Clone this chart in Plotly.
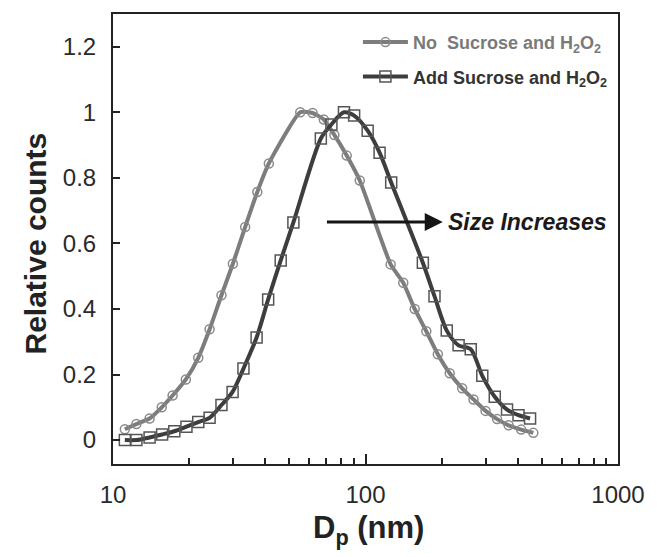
import numpy as np
import plotly.graph_objects as go

# Particle diameter (nm) and normalized counts, no sucrose / H2O2
dp_no = [11.14, 12.38, 13.96, 15.6, 17.22, 19.43, 21.76, 24.13, 26.89, 29.84,
         33.37, 37.28, 41.42, 55.16, 61.75, 68.36, 75.27, 84.25, 94.91, 125.8,
         141.1, 156.6, 174.1, 193.4, 215.5, 241.4, 267.8, 298.9, 332.1, 368.7,
         413.6, 462.0]
counts_no = [0.033, 0.049, 0.066, 0.10, 0.136, 0.185, 0.251, 0.338, 0.442, 0.538,
             0.65, 0.757, 0.844, 1.0, 0.998, 0.978, 0.931, 0.868, 0.792, 0.536,
             0.48, 0.40, 0.332, 0.262, 0.204, 0.158, 0.124, 0.089, 0.064, 0.045,
             0.032, 0.022]

# Particle diameter (nm) and normalized counts, with sucrose / H2O2
dp_add = [11.14, 12.38, 13.96, 15.65, 17.49, 19.54, 21.76, 24.13, 26.89, 29.76,
          32.86, 37.04, 41.16, 46.15, 51.81, 66.55, 73.28, 82.17, 90.16, 102.0,
          113.7, 126.4, 168.7, 187.6, 209.8, 233.7, 261.1, 290.1, 325.1, 363.5,
          403.6, 448.5]
counts_add = [0.0, 0.0, 0.008, 0.017, 0.027, 0.041, 0.055, 0.068, 0.107, 0.147,
              0.218, 0.313, 0.429, 0.548, 0.664, 0.92, 0.963, 1.0, 0.99, 0.944,
              0.877, 0.786, 0.541, 0.439, 0.334, 0.289, 0.277, 0.196, 0.132, 0.093,
              0.076, 0.066]

x_ticks = [10, 100, 1000]
x_minor = [20, 30, 40, 50, 60, 70, 80, 90, 200, 300, 400, 500, 600, 700, 800, 900]
y_ticks = [0, 0.2, 0.4, 0.6, 0.8, 1.0, 1.2]

# Arrow showing the shift of the distribution
arrow_from = (69.4, 0.665)
arrow_to = (202.3, 0.665)

FONT = "Liberation Sans, Arial, sans-serif"
GRAY = "#7d7d7d"
DARK = "#3d3d3d"

fig = go.Figure()
fig.add_trace(go.Scatter(
    x=dp_no, y=counts_no, mode="lines+markers", legendgroup="no",
    name="<span style='color:#7a7a7a'><b>No\u00a0 Sucrose and H<sub>2</sub>O<sub>2</sub></b></span>",
    line=dict(color=GRAY, width=4, shape="spline", smoothing=0.5),
    marker=dict(symbol="circle-open", size=9, color="#8a8a8a", line=dict(width=1.5)),
))
fig.add_trace(go.Scatter(
    x=dp_add, y=counts_add, mode="lines+markers", legendgroup="add",
    name="<span style='color:#333333'><b>Add Sucrose and H<sub>2</sub>O<sub>2</sub></b></span>",
    line=dict(color=DARK, width=4, shape="spline", smoothing=0.8),
    marker=dict(symbol="square-open", size=11, color="#555555", line=dict(width=1.5)),
))

fig.add_annotation(
    x=np.log10(arrow_to[0]), y=arrow_to[1], xref="x", yref="y",
    ax=np.log10(arrow_from[0]), ay=arrow_from[1], axref="x", ayref="y",
    text="", showarrow=True, arrowhead=2, arrowsize=1.2, arrowwidth=3,
    arrowcolor="#151515", standoff=0,
)
fig.add_annotation(
    x=np.log10(arrow_to[0]), y=arrow_to[1], xref="x", yref="y",
    text="<b><i>Size Increases</i></b>", showarrow=False,
    xanchor="left", yanchor="middle", xshift=3,
    font=dict(family=FONT, size=23, color="#1a1a1a"),
)

# Axis titles
fig.add_annotation(
    x=0, y=0.49, xref="paper", yref="paper", xshift=-78,
    text="<b>Relative counts</b>", textangle=-90, showarrow=False,
    xanchor="center", yanchor="middle",
    font=dict(family=FONT, size=30, color="#222222"),
)
fig.add_annotation(
    x=0.5, y=0, xref="paper", yref="paper", yshift=-66, xshift=3,
    text="<b>D<sub>p</sub> (nm)</b>", showarrow=False,
    xanchor="center", yanchor="middle",
    font=dict(family=FONT, size=31, color="#222222"),
)

axis_common = dict(
    showline=True, linecolor="#222222", linewidth=2, mirror=True,
    ticks="inside", tickcolor="#222222", tickwidth=2,
    showgrid=False, zeroline=False,
    tickfont=dict(family=FONT, size=24, color="#2a2a2a"),
)

fig.update_xaxes(
    type="log", range=[1, 3], tickvals=x_ticks, ticktext=[str(v) for v in x_ticks],
    ticklen=10, ticklabelstandoff=8,
    minor=dict(tickvals=x_minor, ticks="inside", ticklen=6, tickwidth=1.5,
               tickcolor="#222222", showgrid=False),
    **axis_common,
)
fig.update_yaxes(
    range=[-0.073, 1.30], tickvals=y_ticks, ticklen=7, ticklabelstandoff=10,
    **axis_common,
)

fig.update_layout(
    width=657, height=557,
    margin=dict(l=113, r=33, t=13, b=93),
    plot_bgcolor="white", paper_bgcolor="white",
    font=dict(family=FONT),
    showlegend=True,
    legend=dict(
        x=0.485, y=0.978, xanchor="left", yanchor="top",
        bgcolor="rgba(0,0,0,0)", borderwidth=0, itemwidth=45,
        font=dict(family=FONT, size=18, color="#333333"),
        tracegroupgap=8,
    ),
)

fig.write_html("out.html")
